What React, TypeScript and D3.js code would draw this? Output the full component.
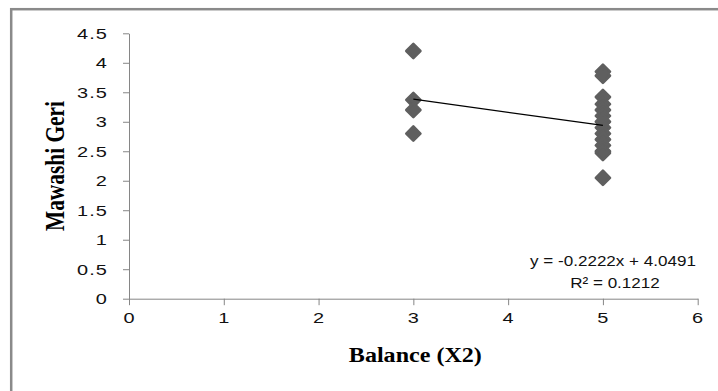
import * as d3 from "d3";
import { useEffect, useRef } from "react";

// Balance score (x) and Mawashi Geri score (y)
const balanceX = [3, 3, 3, 3, 5, 5, 5, 5, 5, 5, 5, 5, 5, 5, 5, 5, 5, 5];
const mawashiY = [4.2, 3.37, 3.2, 2.8, 3.85, 3.78, 3.42, 3.3, 3.2, 3.1, 3.0, 2.9, 2.8, 2.7, 2.6, 2.5, 2.47, 2.05];

const xTicks = [0, 1, 2, 3, 4, 5, 6];
const yTicks = [0, 0.5, 1, 1.5, 2, 2.5, 3, 3.5, 4, 4.5];

// trendline as printed on the chart
const slope = -0.2222;
const intercept = 4.0491;
const rSquared = 0.1212;
const trendRange = [3, 5];

const W = 718;
const H = 391;

const App = () => {
  const chartRef = useRef(null);

  useEffect(() => {
    const svg = d3.select(chartRef.current);
    svg.selectAll("*").remove();

    // plot area bounds
    const margin = { top: 33.3, bottom: 92.3, left: 129, right: 20.3 };

    const scaleX = d3.scaleLinear().domain([0, 6]).range([margin.left, W - margin.right]);
    const scaleY = d3.scaleLinear().domain([0, 4.5]).range([H - margin.bottom, margin.top]);

    // chart frame (only left and top edge visible in the crop)
    svg.append("rect")
      .attr("x", 11.2)
      .attr("y", 9.2)
      .attr("width", W + 20)
      .attr("height", H + 20)
      .attr("fill", "white")
      .attr("stroke", "#8a8a8a")
      .attr("stroke-width", 2.5);

    const sansFont = "'Liberation Sans', Arial, sans-serif";
    const stretch = 1.33; // the source image is widened horizontally

    // axes
    const xAxis = d3.axisBottom(scaleX).tickValues(xTicks).tickSize(6.5).tickSizeOuter(0).tickPadding(7).tickFormat(d3.format("d"));
    const gx = svg.append("g")
      .attr("transform", `translate(0, ${scaleY(0)})`)
      .call(xAxis);

    const yAxis = d3.axisLeft(scaleY).tickValues(yTicks).tickSize(6).tickSizeOuter(0).tickPadding(15).tickFormat(d => String(d));
    const gy = svg.append("g")
      .attr("transform", `translate(${scaleX(0)}, 0)`)
      .call(yAxis);

    [gx, gy].forEach(g => {
      g.selectAll("path, line").attr("stroke", "#868686").attr("stroke-width", 1);
      g.selectAll("text")
        .attr("fill", "#111")
        .style("font-family", sansFont)
        .style("font-size", "15px")
        .style("letter-spacing", "0.8px")
        .attr("transform", `scale(${stretch}, 1)`);
    });
    // keep the y labels' right edge where it was before the stretch
    gy.selectAll("text").attr("x", -21 / stretch);

    // data points: diamonds
    const diamond = d3.symbol(d3.symbolSquare, 100)();
    svg.append("g")
      .selectAll("path")
      .data(balanceX.map((x, i) => [x, mawashiY[i]]))
      .enter()
      .append("path")
      .attr("d", diamond)
      .attr("transform", d => `translate(${scaleX(d[0])}, ${scaleY(d[1])}) rotate(45)`)
      .attr("fill", "#5f5f5f")
      .attr("stroke", "#5f5f5f")
      .attr("stroke-width", 2.6)
      .attr("stroke-linejoin", "round");

    // linear trendline
    const line = d3.line<number>()
      .x(x => scaleX(x))
      .y(x => scaleY(slope * x + intercept));
    svg.append("path")
      .attr("d", line(trendRange))
      .attr("fill", "none")
      .attr("stroke", "#000")
      .attr("stroke-width", 1.2);

    // equation label
    const eqLines = [`y = ${slope}x + ${intercept}`, `R² = ${rSquared}`];
    svg.append("g")
      .selectAll("text")
      .data(eqLines)
      .enter()
      .append("text")
      .attr("transform", (d, i) => `translate(${i === 0 ? 613 : 615}, ${266 + i * 22}) scale(1.1, 1)`)
      .attr("text-anchor", "middle")
      .style("font-family", sansFont)
      .style("font-size", "15.5px")
      .attr("fill", "#111")
      .text(d => d);

    // axis titles
    svg.append("text")
      .attr("x", (scaleX(0) + scaleX(6)) / 2 + 2)
      .attr("y", 362)
      .attr("text-anchor", "middle")
      .attr("textLength", 133)
      .attr("lengthAdjust", "spacingAndGlyphs")
      .style("font-family", "'Liberation Serif', 'Times New Roman', serif")
      .style("font-weight", "bold")
      .style("font-size", "20px")
      .text("Balance (X2)");

    svg.append("text")
      .attr("transform", `translate(64, ${(scaleY(0) + scaleY(4.5)) / 2}) rotate(-90) scale(1, 1.4)`)
      .attr("text-anchor", "middle")
      .attr("textLength", 130)
      .attr("lengthAdjust", "spacingAndGlyphs")
      .style("font-family", "'Liberation Serif', 'Times New Roman', serif")
      .style("font-weight", "bold")
      .style("font-size", "19px")
      .text("Mawashi Geri");
  }, []);

  return (
    <svg
      ref={chartRef}
      width={W}
      height={H}
      style={{ position: "absolute", left: 0, top: 0, background: "white" }}
    ></svg>
  );
};

export default App;
